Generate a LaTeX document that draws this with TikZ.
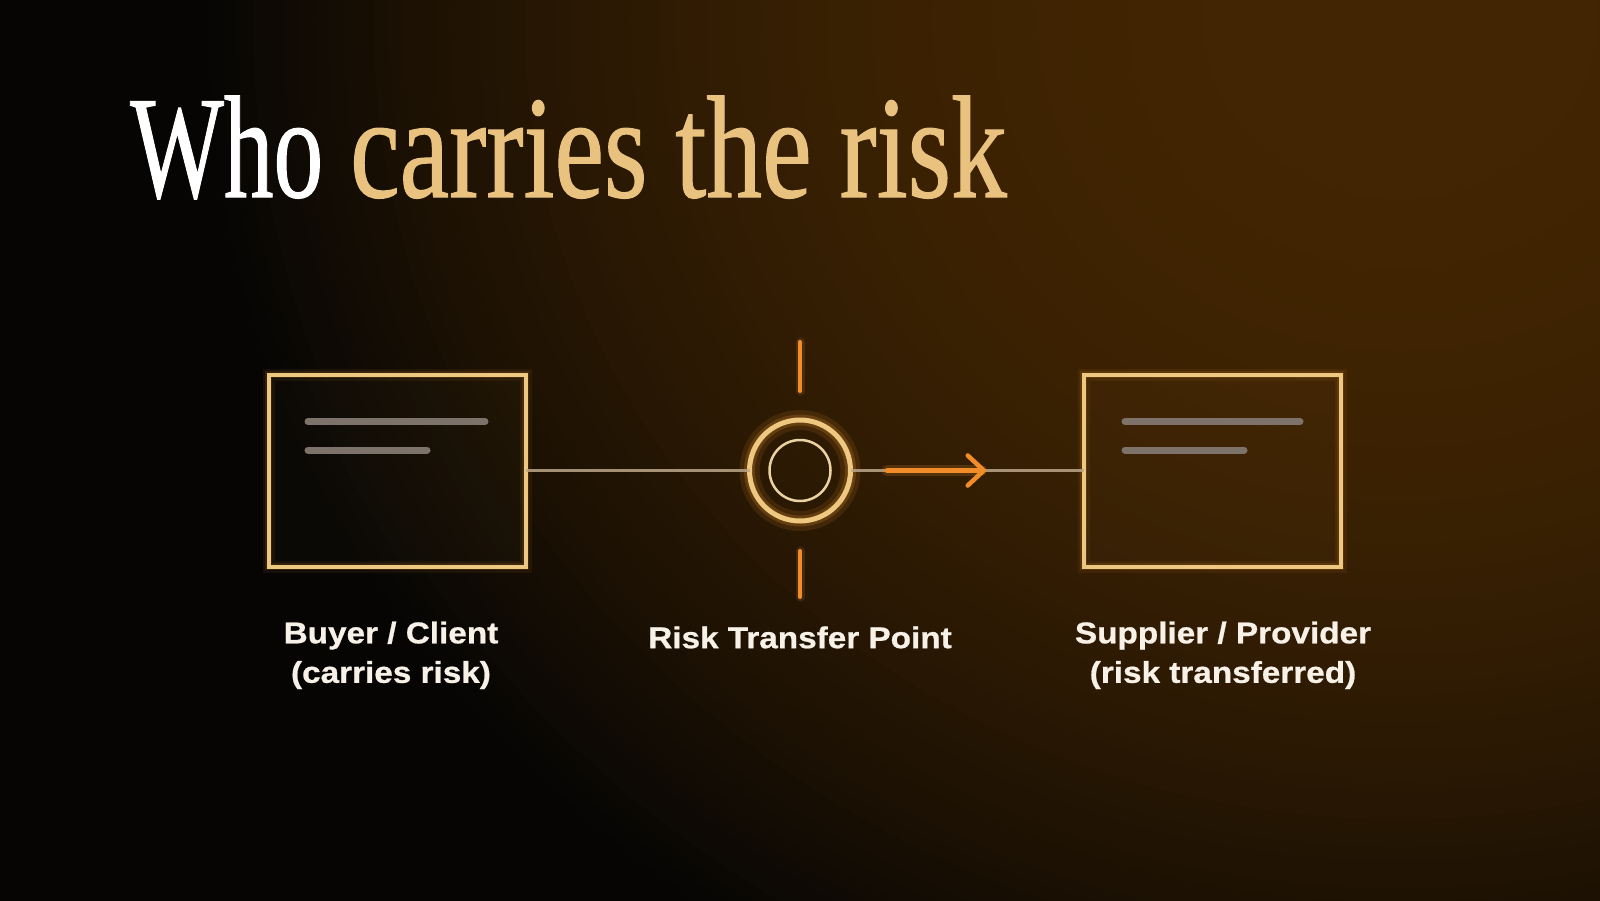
\documentclass[tikz,border=0pt]{standalone}
\usepackage{graphicx}
\usepackage{fontspec}
\setmainfont{Liberation Serif}
\newfontfamily\titlefont{Liberation Serif}[FakeBold=0.9]
\newfontfamily\lblfont{Liberation Sans}[FakeStretch=1.11, FakeBold=0.8]
\usetikzlibrary{arrows.meta}
\definecolor{bgdark}{HTML}{060504}
\definecolor{warm}{HTML}{422502}
\definecolor{gold}{HTML}{E8C27E}
\definecolor{goldline}{HTML}{EEC780}
\definecolor{glow}{HTML}{F09A30}
\definecolor{orangeacc}{HTML}{F28C28}
\definecolor{barcol}{HTML}{7D736A}
\definecolor{conncol}{HTML}{BCA78A}
\definecolor{ringin}{HTML}{EAD3A2}
\definecolor{labelcol}{HTML}{F7F1E8}
\tikzset{
  cardbox/.style={draw=goldline, line width=4pt, fill=gold, fill opacity=0.025, text opacity=1,
    minimum width=257pt, minimum height=192pt, inner sep=0pt, outer sep=0pt,
    preaction={draw=glow, draw opacity=0.07, line width=12pt},
    preaction={draw=glow, draw opacity=0.12, line width=7pt}},
  hubring/.style={circle, draw=goldline, line width=5pt, minimum size=101pt, inner sep=0pt, outer sep=0pt,
    preaction={draw=glow, draw opacity=0.12, line width=20pt},
    preaction={draw=glow, draw opacity=0.2, line width=11pt}},
  innerring/.style={circle, draw=ringin, line width=2.5pt, minimum size=61pt, inner sep=0pt},
  barline/.style={draw=barcol, line width=7pt, line cap=round},
  connline/.style={draw=conncol, line width=2.2pt, draw opacity=0.85},
  tickline/.style={draw=orangeacc, line width=4pt, line cap=round,
    preaction={draw=glow, draw opacity=0.14, line width=9pt, line cap=round}},
  flowarrow/.style={draw=orangeacc, line width=4.5pt, line cap=round,
    -{Straight Barb[length=16pt, width=30pt, line width=4.5pt, round]},
    preaction={draw=glow, draw opacity=0.18, line width=11pt, line cap=round}},
  lbl/.style={font=\lblfont\bfseries\fontsize{30pt}{39.5pt}\selectfont, text=labelcol, align=center, inner sep=0pt}
}
\begin{document}
\begin{tikzpicture}[x=1pt, y=-1pt]
\useasboundingbox (0,0) rectangle (1600,900);
\fill[bgdark] (-20,-20) rectangle (1620,920);
\foreach \i in {0,...,80} {
  \pgfmathsetmacro{\dd}{1.05*(1-\i/80)}
  \pgfmathsetmacro{\xx}{max(0,min(1,(1.05-\dd)))}
  \pgfmathsetmacro{\ff}{100*(1-(1-\xx)^2.2)}
  \fill[warm!\ff!bgdark] (1400,20) ellipse [x radius={1150*\dd}, y radius={1050*\dd}];
}

% title
\node[anchor=base west, inner sep=0pt] (title) at (130,197)
  {\titlefont\fontsize{146pt}{146pt}\selectfont\scalebox{0.68}[1]{\color{white}Who}\hspace{27pt}\scalebox{0.764}[1]{\color{gold}carries the risk}};

% boxes
\node[cardbox] (lbox) at (397,470.5) {};
\node[cardbox] (rbox) at (1212,470.5) {};

% bars
\coordinate (lb1s) at (308,421.5); \coordinate (lb1e) at (485,421.5);
\coordinate (lb2s) at (308,450); \coordinate (lb2e) at (427,450);
\coordinate (rb1s) at (1125,421.5); \coordinate (rb1e) at (1300,421.5);
\coordinate (rb2s) at (1125,450); \coordinate (rb2e) at (1244,450);
\draw[barline] (lb1s) -- (lb1e);
\draw[barline] (lb2s) -- (lb2e);
\draw[barline] (rb1s) -- (rb1e);
\draw[barline] (rb2s) -- (rb2e);

% hub
\node[hubring] (hub) at (800,470.5) {};
\node[innerring] (hubin) at (hub.center) {};

% connectors
\draw[connline] (lbox.east) -- (hub.west);
\draw[connline] (hub.east) -- (rbox.west);

% ticks
\coordinate (t1a) at (800,342); \coordinate (t1b) at (800,391);
\coordinate (t2a) at (800,551); \coordinate (t2b) at (800,597);
\draw[tickline] (t1a) -- (t1b);
\draw[tickline] (t2a) -- (t2b);

% arrow
\coordinate (a1) at (887,470.5); \coordinate (a2) at (986,470.5);
\draw[flowarrow] (a1) -- (a2);

% labels
\node[lbl] (lbl1) at (391,655.3) {Buyer / Client\\(carries risk)};
\node[lbl] (lbl2) at (800,637.4) {Risk Transfer Point};
\node[lbl] (lbl3) at (1223,655.3) {Supplier / Provider\\(risk transferred)};
\end{tikzpicture}
\end{document}
